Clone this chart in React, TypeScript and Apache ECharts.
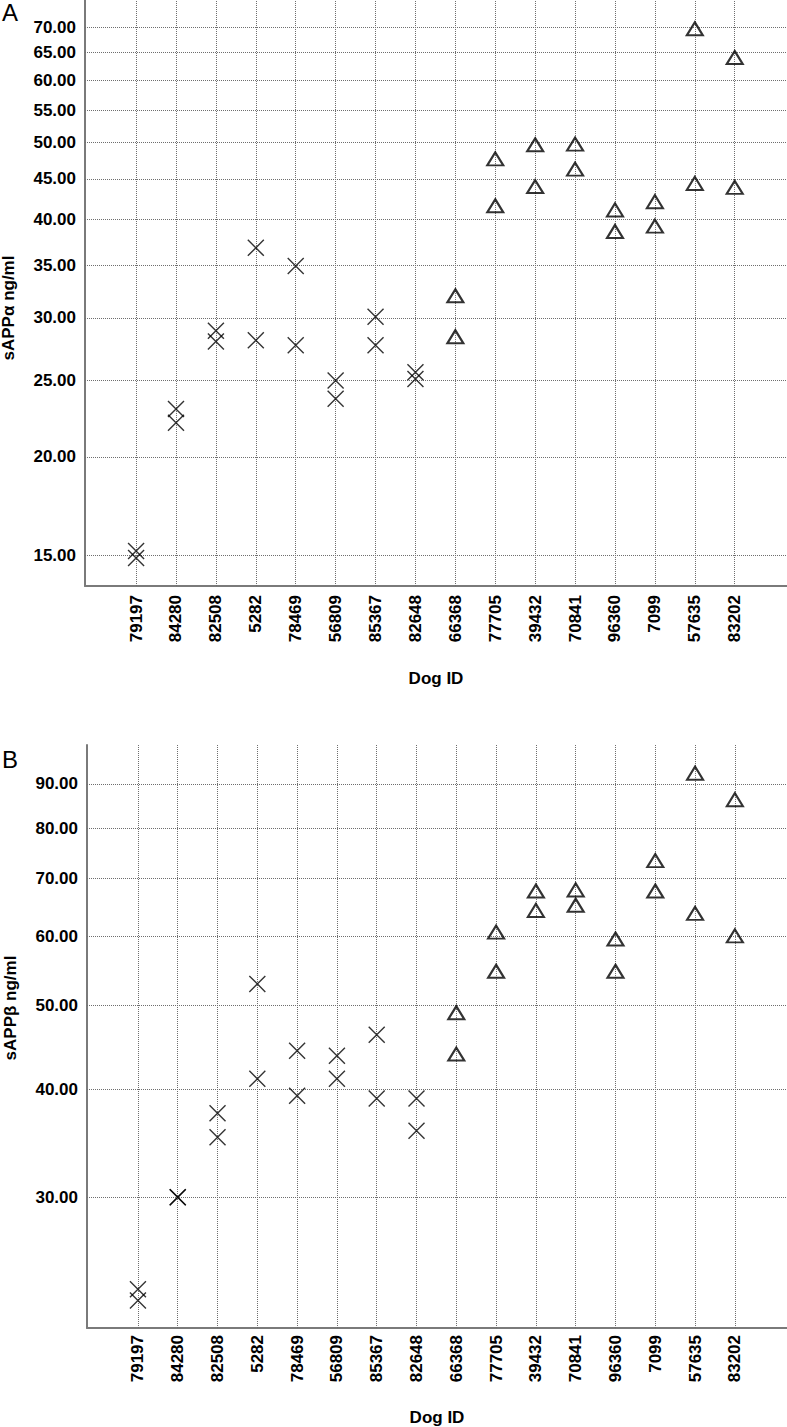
import React, { useEffect, useRef } from 'react';
import * as echarts from 'echarts';

// ---- data ----
const dogIds = ['79197', '84280', '82508', '5282', '78469', '56809', '85367', '82648', '66368', '77705', '39432', '70841', '96360', '7099', '57635', '83202'];
const markerKinds = ['cross', 'cross', 'cross', 'cross', 'cross', 'cross', 'cross', 'cross', 'triangle', 'triangle', 'triangle', 'triangle', 'triangle', 'triangle', 'triangle', 'triangle'];

// sAPPα ng/ml, two measurements per dog
const sAPPaFirst = [15.2, 23.0, 28.9, 36.8, 34.9, 25.0, 30.1, 25.6, 32.0, 47.7, 49.7, 49.8, 41.1, 42.1, 69.7, 64.1];
const sAPPaSecond = [14.9, 22.1, 28.0, 28.1, 27.7, 23.7, 27.7, 25.1, 28.4, 41.6, 44.0, 46.3, 38.6, 39.2, 44.4, 43.9];
// sAPPβ ng/ml, two measurements per dog
const sAPPbFirst = [23.5, 30.0, 37.5, 52.9, 44.3, 43.7, 46.2, 39.0, 49.0, 60.7, 67.7, 67.9, 59.6, 73.4, 92.6, 86.3];
const sAPPbSecond = [22.8, 30.0, 35.2, 41.1, 39.3, 41.1, 39.0, 35.8, 43.9, 54.7, 64.3, 65.2, 54.7, 67.7, 63.8, 60.1];

const alphaTicks = [15, 20, 25, 30, 35, 40, 45, 50, 55, 60, 65, 70];
const betaTicks = [30, 40, 50, 60, 70, 80, 90];

const FONT = '"Liberation Sans", Arial, Helvetica, sans-serif';
const gridLineStyle = { color: '#6e6e6e', width: 1, type: 'dotted' as const };
const axisLineCfg = { show: true, onZero: false, lineStyle: { color: '#7a7a7a', width: 2 } };
const CROSS = 'path://M0,0L10,10M10,0L0,10';

function pointsOf(kind: string, a: number[], b: number[]) {
  const out: number[][] = [];
  dogIds.forEach((_, i) => {
    if (markerKinds[i] === kind) {
      out.push([i, a[i]]);
      out.push([i, b[i]]);
    }
  });
  return out;
}

function panel(gi: number, a: number[], b: number[], ticks: number[], yMin: number, yMax: number, nameGap: number, labelMargin: number) {
  const idx = dogIds.map((_, i) => i);
  const xAxis = {
    gridIndex: gi,
    type: 'value',
    min: -1.28,
    max: 16.31,
    axisLine: axisLineCfg,
    axisTick: { show: false, customValues: idx },
    splitLine: { show: false },
    axisLabel: {
      customValues: idx,
      formatter: (v: number) => dogIds[Math.round(v)] ?? '',
      rotate: 90,
      margin: labelMargin,
      color: '#000',
      fontWeight: 'bold',
      fontSize: 17,
      fontFamily: FONT,
    },
    name: 'Dog ID',
    nameLocation: 'middle',
    nameGap,
    nameTextStyle: { color: '#000', fontWeight: 'bold', fontSize: 17, fontFamily: FONT },
  };
  const yAxis = {
    gridIndex: gi,
    type: 'log',
    min: yMin,
    max: yMax,
    axisLine: axisLineCfg,
    axisTick: { show: false },
    axisLabel: { show: false },
    splitLine: { show: false },
  };
  const series = [
    {
      type: 'scatter',
      xAxisIndex: gi,
      yAxisIndex: gi,
      data: pointsOf('cross', a, b),
      symbol: CROSS,
      symbolSize: 16,
      itemStyle: { color: 'rgba(0,0,0,0)', borderColor: '#000', borderWidth: 1.4 },
      z: 5,
      markLine: {
        silent: true,
        symbol: ['none', 'none'],
        lineStyle: gridLineStyle,
        label: {
          show: true,
          position: 'start',
          distance: 9,
          formatter: (p: any) => Number(p.value).toFixed(2),
          color: '#000',
          fontWeight: 'bold',
          fontSize: 17,
          fontFamily: FONT,
        },
        emphasis: { disabled: true },
        data: ticks.map((t) => ({ yAxis: t })),
        z: 1,
      },
    },
    {
      type: 'scatter',
      xAxisIndex: gi,
      yAxisIndex: gi,
      data: pointsOf('triangle', a, b),
      symbol: 'triangle',
      symbolSize: [16, 13],
      itemStyle: { color: 'rgba(0,0,0,0)', borderColor: '#000', borderWidth: 2.1 },
      z: 5,
      markLine: {
        silent: true,
        symbol: ['none', 'none'],
        lineStyle: gridLineStyle,
        label: { show: false },
        emphasis: { disabled: true },
        data: idx.map((i) => ({ xAxis: i })),
        z: 1,
      },
    },
  ];
  return { xAxis, yAxis, series };
}

export default function App() {
  const ref = useRef<HTMLDivElement>(null);
  useEffect(() => {
    if (!ref.current) return;
    const chart = echarts.init(ref.current, undefined, { renderer: 'svg' });
    const pA = panel(0, sAPPaFirst, sAPPaSecond, alphaTicks, 13.73, 75.8, 84, 9);
    const pB = panel(1, sAPPbFirst, sAPPbSecond, betaTicks, 21.2, 99.8, 81, 7);
    chart.setOption({
      animation: false,
      backgroundColor: '#fff',
      grid: [
        { left: 85, top: 0, width: 702, height: 586 },
        { left: 87, top: 745, width: 700, height: 585 },
      ],
      xAxis: [pA.xAxis, pB.xAxis],
      yAxis: [pA.yAxis, pB.yAxis],
      series: [...pA.series, ...pB.series],
      graphic: [
        { type: 'text', x: 2, y: 12, style: { text: 'A', fontSize: 24, fontFamily: FONT, fill: '#000', align: 'left', verticalAlign: 'middle' } },
        { type: 'text', x: 2, y: 759, style: { text: 'B', fontSize: 24, fontFamily: FONT, fill: '#000', align: 'left', verticalAlign: 'middle' } },
        { type: 'text', x: 8, y: 308, rotation: Math.PI / 2, style: { text: 'sAPPα ng/ml', fontSize: 17, fontWeight: 'bold', fontFamily: FONT, fill: '#000', align: 'center', verticalAlign: 'middle' } },
        { type: 'text', x: 10, y: 1008, rotation: Math.PI / 2, style: { text: 'sAPPβ ng/ml', fontSize: 17, fontWeight: 'bold', fontFamily: FONT, fill: '#000', align: 'center', verticalAlign: 'middle' } },
      ],
    });
    return () => chart.dispose();
  }, []);
  return <div ref={ref} style={{ position: 'absolute', left: 0, top: 0, width: 787, height: 1427 }} />;
}
